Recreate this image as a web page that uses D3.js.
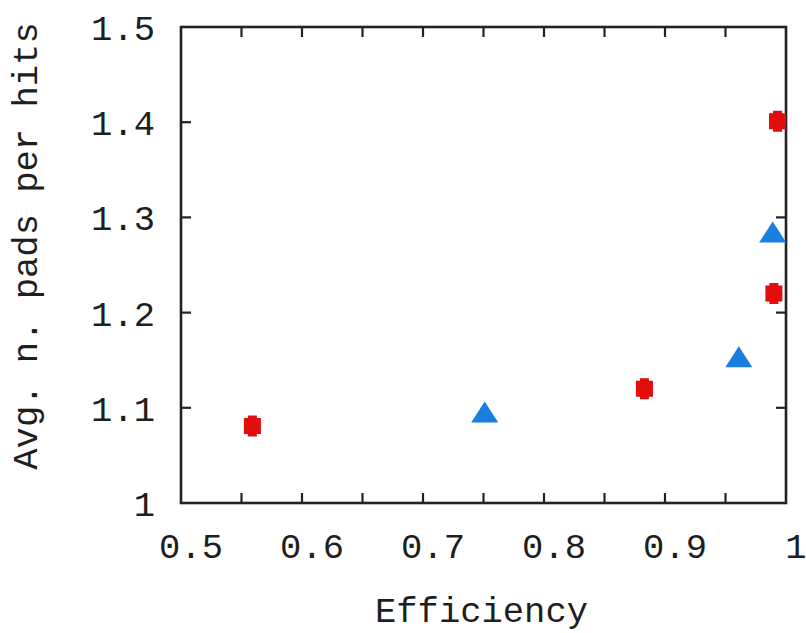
<!DOCTYPE html>
<html>
<head>
<meta charset="utf-8">
<script src="https://cdn.jsdelivr.net/npm/d3@7"></script>
<style>
  html, body { margin: 0; padding: 0; background: #fff; }
  svg { display: block; }
  text { font-family: "Liberation Mono", "DejaVu Sans Mono", monospace; fill: #1e1e1e; }
</style>
</head>
<body>
<svg id="chart" width="806" height="633"></svg>
<script>
// Efficiency vs average number of pads per hit
const seriesA_eff  = [0.559, 0.883, 0.990, 0.993];
const seriesA_pads = [1.081, 1.120, 1.220, 1.401];
const seriesB_eff  = [0.751, 0.961, 0.989];
const seriesB_pads = [1.092, 1.150, 1.281];

const xTickLabels = ["0.5", "0.6", "0.7", "0.8", "0.9", "1"];
const yTickLabels = ["1", "1.1", "1.2", "1.3", "1.4", "1.5"];
const xMinorTicks = [0.55, 0.6, 0.65, 0.7, 0.75, 0.8, 0.85, 0.9, 0.95];
const yMinorTicks = [1.1, 1.2, 1.3, 1.4];

const xLabel = "Efficiency";
const yLabel = "Avg. n. pads per hits";

const svg = d3.select("#chart");
const plotLeft = 181, plotRight = 786, plotTop = 27, plotBottom = 503;

const x = d3.scaleLinear().domain([0.5, 1]).range([plotLeft, plotRight]);
const y = d3.scaleLinear().domain([1, 1.5]).range([plotBottom, plotTop]);

const fontSize = 35.5;
const tickLen = 10;

// inward ticks on all four sides
const tickG = svg.append("g").attr("stroke", "#222").attr("stroke-width", 2.2);
xMinorTicks.forEach(v => {
  tickG.append("line").attr("x1", x(v)).attr("x2", x(v)).attr("y1", plotBottom).attr("y2", plotBottom - tickLen);
  tickG.append("line").attr("x1", x(v)).attr("x2", x(v)).attr("y1", plotTop).attr("y2", plotTop + tickLen);
});
yMinorTicks.forEach(v => {
  tickG.append("line").attr("x1", plotLeft).attr("x2", plotLeft + tickLen).attr("y1", y(v)).attr("y2", y(v));
  tickG.append("line").attr("x1", plotRight).attr("x2", plotRight - tickLen).attr("y1", y(v)).attr("y2", y(v));
});

// plot frame
svg.append("rect")
  .attr("x", plotLeft).attr("y", plotTop)
  .attr("width", plotRight - plotLeft).attr("height", plotBottom - plotTop)
  .attr("fill", "none").attr("stroke", "#222").attr("stroke-width", 2.6);

// tick labels
svg.append("g").selectAll("text").data(xTickLabels).join("text")
  .attr("x", d => x(+d) + 10)
  .attr("y", 558)
  .attr("text-anchor", "middle")
  .attr("font-size", fontSize)
  .text(d => d);

svg.append("g").selectAll("text").data(yTickLabels).join("text")
  .attr("x", 155)
  .attr("y", d => y(+d) + 13)
  .attr("text-anchor", "end")
  .attr("font-size", fontSize)
  .text(d => d);

// axis titles
svg.append("text")
  .attr("x", (plotLeft + plotRight) / 2 - 2)
  .attr("y", 622)
  .attr("text-anchor", "middle")
  .attr("font-size", fontSize)
  .text(xLabel);

svg.append("text")
  .attr("transform", "translate(37,246) rotate(-90)")
  .attr("text-anchor", "middle")
  .attr("font-size", fontSize)
  .text(yLabel);

// red markers: pixel-style round dots
const dotPath = "M-8.5,-8 L-4.5,-8 L-4.5,-10.5 L4.5,-10.5 L4.5,-8 L8.5,-8 L8.5,8 L4.5,8 L4.5,10.5 L-4.5,10.5 L-4.5,8 L-8.5,8 Z";
svg.append("g").selectAll("path").data(d3.range(seriesA_eff.length)).join("path")
  .attr("transform", i => `translate(${x(seriesA_eff[i])},${y(seriesA_pads[i])})`)
  .attr("d", dotPath)
  .attr("fill", "#e30d0d");

// blue markers: filled triangles, centroid on the data point
const triPath = "M0,-14 L13.5,7 L-13.5,7 Z";
svg.append("g").selectAll("path").data(d3.range(seriesB_eff.length)).join("path")
  .attr("transform", i => `translate(${x(seriesB_eff[i])},${y(seriesB_pads[i])})`)
  .attr("d", triPath)
  .attr("fill", "#1a7ee0");
</script>
</body>
</html>
